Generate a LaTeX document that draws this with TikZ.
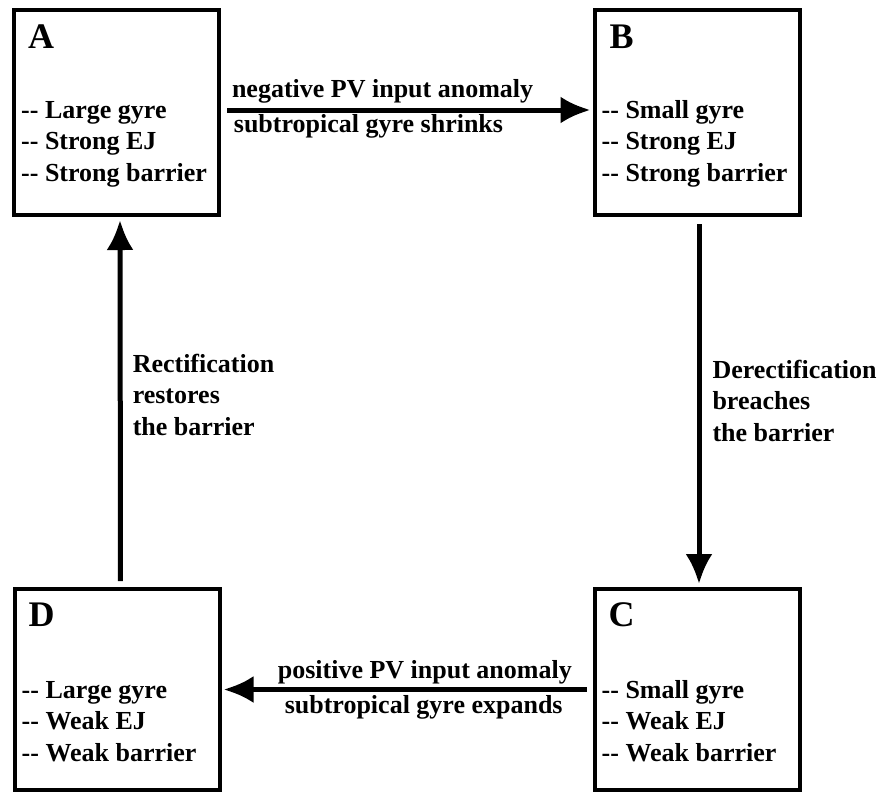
\documentclass[tikz,border=0pt]{standalone}
\usepackage{fontspec}
\setmainfont{Liberation Serif}
\usetikzlibrary{positioning,arrows.meta,calc}
\tikzset{
  state/.style={draw, line width=4pt, minimum width=205pt, minimum height=205pt,
                inner sep=0pt},
  tag/.style={font=\fontsize{36}{36}\selectfont\bfseries, inner sep=0pt,
              anchor=base west},
  % base of a multi-line node = baseline of its last line
  items/.style={font=\fontsize{26}{31.5}\selectfont\bfseries, align=left,
                inner sep=0pt, anchor=base west},
  flow/.style={-{Latex[length=30pt, width=27pt]}, line width=5pt},
  % labels along the arrows
  lbl/.style={font=\fontsize{26}{31.5}\selectfont\bfseries, inner sep=0pt},
}

\begin{document}
\begin{tikzpicture}[x=1pt, y=-1pt]
\useasboundingbox (0,0) rectangle (880,793);

%% ── the four states ─────────────────────────────────────────────
\node[state] (boxA) at (116.5,112.5) {};
\node[state] (boxB) at (697,112.5) {};
\node[state, minimum height=201pt] (boxC) at (697,689.5) {};
\node[state, minimum height=201pt] (boxD) at (117,689.5) {};

\node[tag] (tagA) at ([shift={(16,40)}]boxA.north west) {A};
\node[tag] (tagB) at ([shift={(17,40)}]boxB.north west) {B};
\node[tag] (tagC) at ([shift={(16,39)}]boxC.north west) {C};
\node[tag] (tagD) at ([shift={(16,39)}]boxD.north west) {D};

\node[items] (listA) at ([shift={(9,173)}]boxA.north west)
  {-{}- Large gyre\\ -{}- Strong EJ\\ -{}- Strong barrier};
\node[items] (listB) at ([shift={(9,173)}]boxB.north west)
  {-{}- Small gyre\\ -{}- Strong EJ\\ -{}- Strong barrier};
\node[items] (listC) at ([shift={(9,174)}]boxC.north west)
  {-{}- Small gyre\\ -{}- Weak EJ\\ -{}- Weak barrier};
\node[items] (listD) at ([shift={(9,174)}]boxD.north west)
  {-{}- Large gyre\\ -{}- Weak EJ\\ -{}- Weak barrier};

%% ── transitions round the cycle ─────────────────────────────────
\draw[flow, shorten <=6pt, shorten >=2pt]
  ([yshift=2.5pt]boxA.east) -- ([yshift=2.5pt]boxB.west)
  node[lbl, pos=.435, anchor=base, yshift=13pt] (negLbl) {negative PV input anomaly}
  node[lbl, pos=.397, anchor=base, yshift=-22pt] (shrinkLbl) {subtropical gyre shrinks};

\draw[flow, shorten <=7pt, shorten >=3pt]
  ([xshift=2pt]boxB.south) -- ([xshift=2pt]boxC.north)
  node[lbl, align=left, pos=.5, anchor=west, xshift=11pt, yshift=1.5pt] (derectLbl)
  {Derectification\\breaches\\the barrier};

\draw[flow, shorten <=6pt, shorten >=2pt]
  (boxC.west) -- (boxD.east)
  node[lbl, pos=.452, anchor=base, yshift=11pt] (posLbl) {positive PV input anomaly}
  node[lbl, pos=.455, anchor=base, yshift=-24pt] (expandLbl) {subtropical gyre expands};

\draw[flow, shorten <=6pt, shorten >=3pt]
  ([xshift=3.5pt]boxD.north) -- ([xshift=3.5pt]boxA.south)
  node[lbl, align=left, pos=.5, anchor=west, xshift=10pt, yshift=7.5pt] (rectLbl)
  {Rectification\\restores\\the barrier};

\end{tikzpicture}
\end{document}
